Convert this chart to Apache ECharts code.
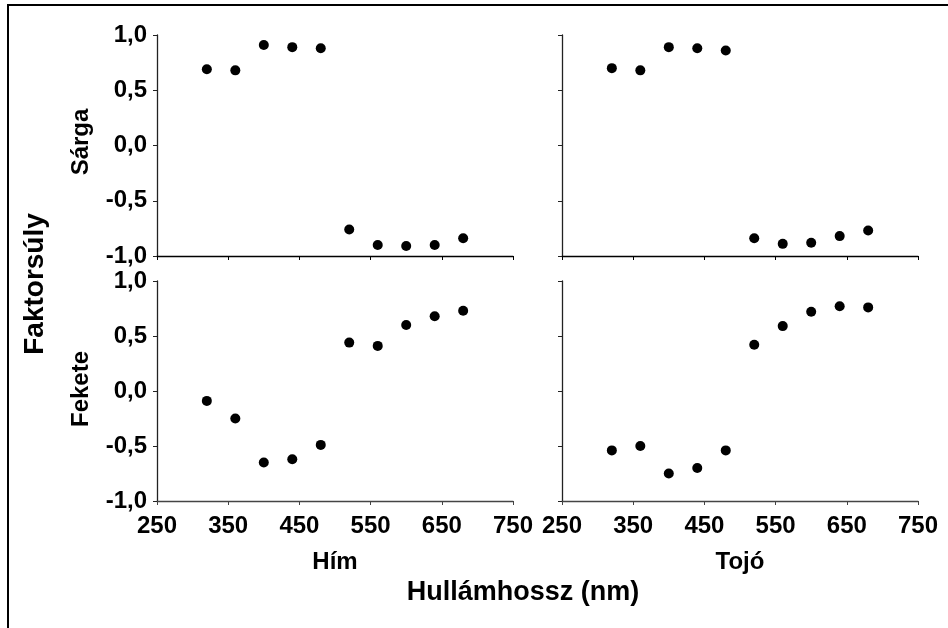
<!DOCTYPE html>
<html><head><meta charset="utf-8">
<script src="https://cdn.jsdelivr.net/npm/echarts@6/dist/echarts.min.js"></script>
<style>html,body{margin:0;padding:0;background:#fff}#c{width:948px;height:628px}</style>
</head><body><div id="c"></div>
<script>
const wavelengths = [320, 360, 400, 440, 480, 520, 560, 600, 640, 680];
const himSarga   = [0.69, 0.68, 0.91, 0.89, 0.88, -0.76, -0.90, -0.91, -0.90, -0.84];
const tojoSarga  = [0.70, 0.68, 0.89, 0.88, 0.86, -0.84, -0.89, -0.88, -0.82, -0.77];
const himFekete  = [-0.09, -0.25, -0.65, -0.62, -0.49, 0.44, 0.41, 0.60, 0.68, 0.73];
const tojoFekete = [-0.54, -0.50, -0.75, -0.70, -0.54, 0.42, 0.59, 0.72, 0.77, 0.76];
const xTicks = [250, 350, 450, 550, 650, 750];
const yTicks = [-1.0, -0.5, 0.0, 0.5, 1.0];
const panelRows = ['Sárga', 'Fekete'];
const panelCols = ['Hím', 'Tojó'];
const yTitle = 'Faktorsúly';
const xTitle = 'Hullámhossz (nm)';

const FONT = 'Liberation Sans, Arial, sans-serif';
const chart = echarts.init(document.getElementById('c'), null, {renderer: 'canvas'});

const grids = [
  {left: 157, top: 35, width: 356, height: 221},
  {left: 562, top: 35, width: 356, height: 221},
  {left: 157, top: 281, width: 356, height: 220},
  {left: 562, top: 281, width: 356, height: 220}
];
const seriesData = [himSarga, tojoSarga, himFekete, tojoFekete];

const xAxes = grids.map((g, i) => ({
  type: 'value', gridIndex: i,
  min: xTicks[0], max: xTicks[xTicks.length - 1], interval: 100,
  axisLine: {show: true, onZero: false, lineStyle: {color: i < 2 ? '#000' : '#444', width: 1.3}},
  axisTick: {show: true, length: 4, lineStyle: {color: i < 2 ? '#000' : '#444'}},
  axisLabel: {show: i >= 2, margin: 13, color: '#000', fontFamily: FONT, fontWeight: 'bold', fontSize: 24},
  splitLine: {show: false}
}));
const yAxes = grids.map((g, i) => ({
  type: 'value', gridIndex: i,
  min: yTicks[0], max: yTicks[yTicks.length - 1], interval: 0.5,
  axisLine: {show: true, onZero: false, lineStyle: {color: '#222', width: 1.3}},
  axisTick: {show: true, length: 4, lineStyle: {color: '#222'}},
  axisLabel: {show: i % 2 === 0, margin: 10, color: '#000', fontFamily: FONT, fontWeight: 'bold', fontSize: 24,
    formatter: v => v.toFixed(1).replace('.', ',')},
  splitLine: {show: false}
}));
const series = seriesData.map((d, i) => ({
  type: 'scatter', xAxisIndex: i, yAxisIndex: i,
  symbol: 'circle', symbolSize: 10,
  itemStyle: {color: '#000', opacity: 1},
  data: wavelengths.map((w, k) => [w, d[k]])
}));

const txt = (text, x, y, size, rot) => ({
  type: 'text', x: x, y: y, rotation: rot || 0,
  style: {text: text, fill: '#000', font: 'bold ' + size + 'px ' + FONT, textAlign: 'center', textVerticalAlign: 'middle'}
});

chart.setOption({
  animation: false,
  grid: grids,
  xAxis: xAxes,
  yAxis: yAxes,
  series: series,
  graphic: [
    {type: 'rect', shape: {x: 8, y: 5, width: 1000, height: 1000}, style: {fill: 'none', stroke: '#000', lineWidth: 2}},
    txt(panelRows[0], 81, 142, 24, Math.PI / 2),
    txt(panelRows[1], 81, 389, 24, Math.PI / 2),
    txt(yTitle, 35, 284, 28, Math.PI / 2),
    txt(panelCols[0], 335, 562, 24),
    txt(panelCols[1], 740, 562, 24),
    txt(xTitle, 523, 593, 27)
  ]
});
</script></body></html>
